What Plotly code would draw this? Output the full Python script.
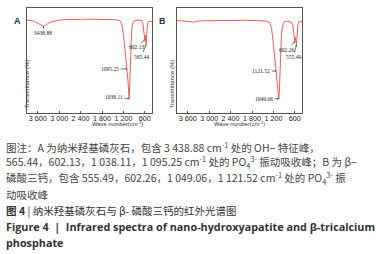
import plotly.graph_objects as go

W, H = 376, 254

# Spectrum A: nano-hydroxyapatite
wn_a = [3900, 3800, 3700, 3600, 3500, 3440, 3380, 3300, 3200, 3100, 3000, 2800, 2600, 2400,
        2360, 2330, 2000, 1800, 1650, 1600, 1500, 1400, 1300, 1250, 1200, 1160, 1120, 1095,
        1070, 1050, 1038, 1025, 1010, 990, 970, 950, 920, 880, 800, 700, 660, 630, 615, 602,
        590, 580, 565, 555, 540, 520, 480, 440, 400]
t_a = [88.5, 88.3, 87.5, 85.5, 83.5, 82.7, 83.5, 85.5, 87, 88, 88.5, 89, 89.2, 89.2,
       88.6, 89.2, 89.3, 89.2, 88.5, 89, 89, 88.8, 88, 85, 75, 62, 50, 42,
       30, 18, 13.5, 25, 45, 65, 78, 84, 87, 88, 88.5, 88, 86, 78, 72, 70,
       74, 70, 65, 72, 82, 86, 87.5, 87, 87]

# Spectrum B: beta-tricalcium phosphate
wn_b = [3900, 3800, 3700, 3600, 3500, 3440, 3380, 3200, 3000, 2600, 2400, 2000, 1600, 1400,
        1300, 1250, 1200, 1160, 1121, 1100, 1070, 1049, 1035, 1015, 995, 975, 950, 920, 880,
        800, 700, 660, 630, 615, 602, 590, 575, 555, 545, 530, 510, 480, 440, 400]
t_b = [88, 87.8, 87.5, 87.5, 87, 86.3, 87.2, 87.8, 88, 88.2, 88.2, 88.3, 88, 87.5,
       86, 80, 65, 50, 40, 32, 20, 13.5, 20, 40, 60, 75, 82, 86, 87,
       87.5, 86.5, 84, 76, 70, 68, 72, 70, 65, 70, 80, 85, 87, 87.5, 86.5]

tick_vals = [3600, 3000, 2400, 1800, 1200, 600]
tick_text = ["3 600", "3 000", "2 400", "1 800", "1 200", "600"]

# peak labels: (wavenumber, value, text, ax, ay)
peaks_a = [(3438.88, 82.7, "3438.88", 0, 7),
           (1095.25, 42, "1095.25", -17, 0),
           (1038.11, 13.5, "1038.11", -15, -2),
           (602.13, 70, "602.13", -8, 8),
           (565.44, 65, "565.44", -5, 12)]
peaks_b = [(1121.52, 40, "1121.52", -15, 0),
           (1049.06, 13.5, "1049.06", -15, 0),
           (602.26, 68, "602.26", -8, 8),
           (555.49, 65, "555.49", -3, 12)]

caption = [
    "图注：A 为纳米羟基磷灰石，包含 3 438.88 cm<sup>-1</sup> 处的 OH− 特征峰，",
    "565.44，602.13，1 038.11，1 095.25 cm<sup>-1</sup> 处的 PO<sub>4</sub><sup>3-</sup> 振动吸收峰；B 为 β−",
    "磷酸三钙，包含 555.49，602.26，1 049.06，1 121.52 cm<sup>-1</sup> 处的 PO<sub>4</sub><sup>3-</sup> 振",
    "动吸收峰",
]
title_cn = "<b>图 4</b> | 纳米羟基磷灰石与 β- 磷酸三钙的红外光谱图"
title_en = ["<b>Figure 4  |  Infrared spectra of nano-hydroxyapatite and β-tricalcium</b>",
            "<b>phosphate</b>"]

line_color = "#f05a5a"
fig = go.Figure()
fig.add_trace(go.Scatter(x=wn_a, y=t_a, mode="lines", line=dict(color=line_color, width=1),
                         xaxis="x", yaxis="y", showlegend=False, hoverinfo="skip"))
fig.add_trace(go.Scatter(x=wn_b, y=t_b, mode="lines", line=dict(color=line_color, width=1),
                         xaxis="x2", yaxis="y2", showlegend=False, hoverinfo="skip"))

def px(x):
    return x / W

def py(y):
    return 1 - y / H

top, bot = 8, 113
xa = (27, 152)
xb = (177, 302)
axis_common = dict(range=[3900, 400], tickvals=tick_vals, ticktext=tick_text,
                   showline=True, linecolor="#555", linewidth=1, mirror=True,
                   ticks="inside", ticklen=2, tickcolor="#555", showgrid=False, zeroline=False,
                   ticklabelstandoff=-2,
                   tickfont=dict(family="Liberation Sans", size=7.2, color="#222"))
yaxis_common = dict(range=[0, 100], showticklabels=False, showline=True, linecolor="#555",
                    linewidth=1, mirror=True, ticks="", showgrid=False, zeroline=False,
                    domain=[py(bot), py(top)])
fig.update_layout(
    width=W, height=H, margin=dict(l=0, r=0, t=0, b=0),
    paper_bgcolor="white", plot_bgcolor="white",
    xaxis=dict(domain=[px(xa[0]), px(xa[1])], anchor="y", **axis_common),
    yaxis=dict(anchor="x", **yaxis_common),
    xaxis2=dict(domain=[px(xb[0]), px(xb[1])], anchor="y2", **axis_common),
    yaxis2=dict(anchor="x2", **yaxis_common),
)

anns = []
for xr, yr, peaks in (("x", "y", peaks_a), ("x2", "y2", peaks_b)):
    for w, v, t, ax, ay in peaks:
        anns.append(dict(x=w, y=v, xref=xr, yref=yr, text=t, showarrow=True,
                         arrowhead=2, arrowsize=0.5, arrowwidth=0.6, arrowcolor="#222",
                         ax=ax, ay=ay, standoff=0, startstandoff=0,
                         font=dict(family="Liberation Serif", size=5.5, color="#222")))

sans = "Liberation Sans"
for cx, lab in ((xa, "A"), (xb, "B")):
    anns.append(dict(x=px(cx[0] - 15), y=py(14), xref="paper", yref="paper", text="<b>%s</b>" % lab,
                     showarrow=False, font=dict(family=sans, size=9, color="#1f2f4f")))
    anns.append(dict(x=px((cx[0] + cx[1]) / 2), y=py(123.5), xref="paper", yref="paper",
                     text="Wave number(cm<sup>-1</sup>)", showarrow=False,
                     font=dict(family=sans, size=5.8, color="#333")))
    anns.append(dict(x=px(cx[0] - 6), y=py(58), xref="paper", yref="paper",
                     text="Transmittance (%)", textangle=-90, showarrow=False,
                     font=dict(family=sans, size=6, color="#333")))

cjk = "Noto Sans CJK SC"
ys = [147, 162, 178, 194]
for yv, t in zip(ys, caption):
    anns.append(dict(x=px(4), y=py(yv), xref="paper", yref="paper", text=t, showarrow=False,
                     xanchor="left", yanchor="middle",
                     font=dict(family=cjk, size=10.5, color="#444")))
anns.append(dict(x=px(4), y=py(210), xref="paper", yref="paper", text=title_cn, showarrow=False,
                 xanchor="left", yanchor="middle", font=dict(family=cjk, size=10.5, color="#333")))
for yv, t in zip([226, 242], title_en):
    anns.append(dict(x=px(4), y=py(yv), xref="paper", yref="paper", text=t, showarrow=False,
                     xanchor="left", yanchor="middle", font=dict(family="Open Sans", size=10.8, color="#333")))

fig.update_layout(annotations=anns)
fig.write_html("out.html", config={"displayModeBar": False},
               post_script="document.body.style.margin='0';")
